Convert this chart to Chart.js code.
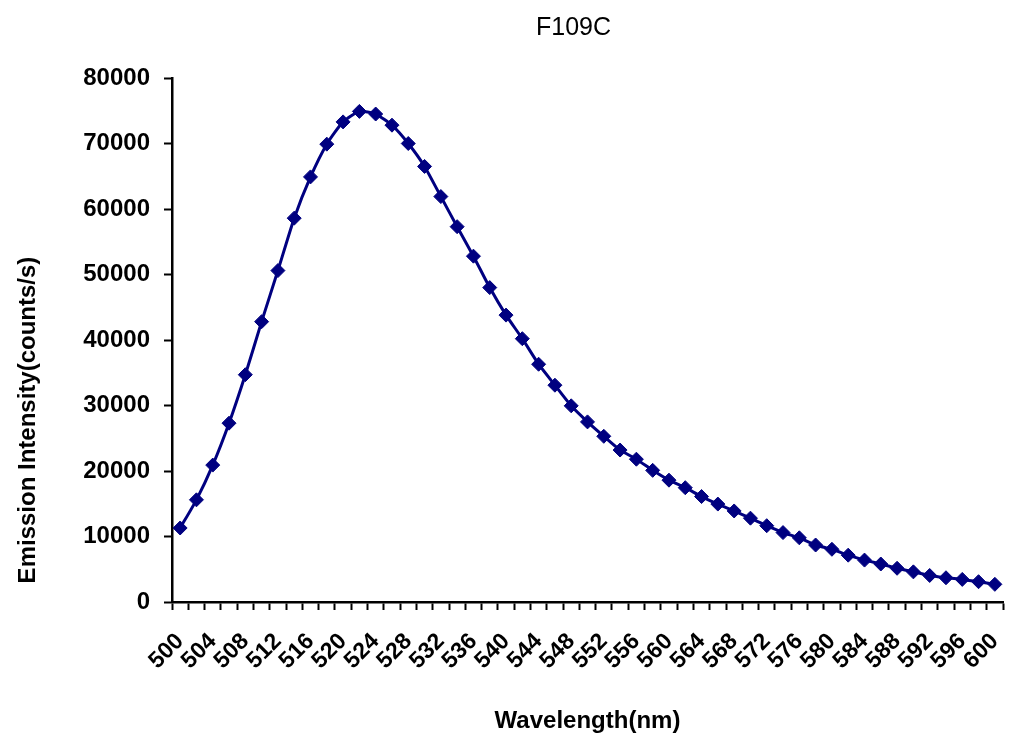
<!DOCTYPE html>
<html>
<head>
<meta charset="utf-8">
<style>
  html, body { margin: 0; padding: 0; background: #ffffff; }
  #wrap { width: 1011px; height: 744px; position: relative; }
</style>
<script src="https://cdn.jsdelivr.net/npm/chart.js@4.4.1/dist/chart.umd.min.js"></script>
</head>
<body>
<div id="wrap"><canvas id="c" width="1011" height="744"></canvas></div>
<script>
const chartTitle = 'F109C';
const xAxisTitle = 'Wavelength(nm)';
const yAxisTitle = 'Emission Intensity(counts/s)';

const wavelengths = [500, 502, 504, 506, 508, 510, 512, 514, 516, 518,
  520, 522, 524, 526, 528, 530, 532, 534, 536, 538,
  540, 542, 544, 546, 548, 550, 552, 554, 556, 558,
  560, 562, 564, 566, 568, 570, 572, 574, 576, 578,
  580, 582, 584, 586, 588, 590, 592, 594, 596, 598, 600];

const intensity = [11300, 15600, 20900, 27300, 34700, 42800, 50600, 58600, 64900, 69900,
  73300, 74900, 74500, 72800, 70000, 66500, 61900, 57300, 52800, 48000,
  43800, 40200, 36300, 33100, 29950, 27500, 25300, 23200, 21800, 20100,
  18600, 17450, 16100, 14950, 13900, 12800, 11650, 10600, 9800, 8700,
  8050, 7150, 6400, 5800, 5150, 4600, 4050, 3700, 3450, 3100, 2700];

const yTicks = [0, 10000, 20000, 30000, 40000, 50000, 60000, 70000, 80000];

const FONT = "'Liberation Sans', Arial, Helvetica, sans-serif";
const NAVY = '#000080';

// pad strings so the titles sit where the original places them
const pad = n => '\u00a0'.repeat(n);

new Chart(document.getElementById('c'), {
  type: 'line',
  data: {
    labels: wavelengths.map(String),
    datasets: [{
      data: intensity,
      borderColor: NAVY,
      backgroundColor: NAVY,
      borderWidth: 3,
      pointStyle: 'rectRot',
      pointRadius: 7,
      pointBorderWidth: 1,
      pointBackgroundColor: NAVY,
      pointBorderColor: NAVY,
      pointHoverRadius: 7,
      tension: 0.2,
      fill: false
    }]
  },
  options: {
    responsive: false,
    animation: false,
    events: [],
    layout: { padding: { left: 10, right: 6, top: 0, bottom: 4 } },
    plugins: {
      legend: { display: false },
      tooltip: { enabled: false },
      title: {
        display: true,
        text: pad(19) + chartTitle,
        color: '#000',
        font: { family: FONT, size: 25, weight: 'normal' },
        padding: { top: 13, bottom: 35 }
      }
    },
    scales: {
      x: {
        type: 'category',
        offset: true,
        grid: {
          display: true,
          offset: true,
          drawOnChartArea: false,
          drawTicks: true,
          tickLength: 8,
          tickWidth: 2,
          color: '#000'
        },
        border: { display: true, color: '#000', width: 2.5 },
        ticks: {
          autoSkip: false,
          minRotation: 45,
          maxRotation: 45,
          padding: 18,
          color: '#000',
          font: { family: FONT, size: 23, weight: 'bold' },
          callback: function (value, index) {
            return index % 2 === 0 ? String(wavelengths[index]) : '';
          }
        },
        title: {
          display: true,
          text: xAxisTitle,
          color: '#000',
          font: { family: FONT, size: 24, weight: 'bold' },
          padding: { top: 4, bottom: 4 }
        },
        afterFit: function (scale) {
          scale.height = 138;
          scale.paddingLeft = 0;
          scale.paddingRight = 0;
        }
      },
      y: {
        min: yTicks[0],
        max: yTicks[yTicks.length - 1],
        grid: {
          display: true,
          drawOnChartArea: false,
          drawTicks: true,
          tickLength: 8,
          tickWidth: 2,
          color: '#000'
        },
        border: { display: true, color: '#000', width: 2.5 },
        afterBuildTicks: function (scale) {
          scale.ticks = yTicks.map(v => ({ value: v }));
        },
        ticks: {
          padding: 14,
          color: '#000',
          font: { family: FONT, size: 24, weight: 'bold' },
          callback: function (value) { return String(value); }
        },
        title: {
          display: true,
          text: yAxisTitle + pad(24),
          color: '#000',
          font: { family: FONT, size: 24, weight: 'bold' },
          padding: { top: 4, bottom: 4 }
        },
        afterFit: function (scale) { scale.width = 162; }
      }
    }
  }
});
</script>
</body>
</html>
